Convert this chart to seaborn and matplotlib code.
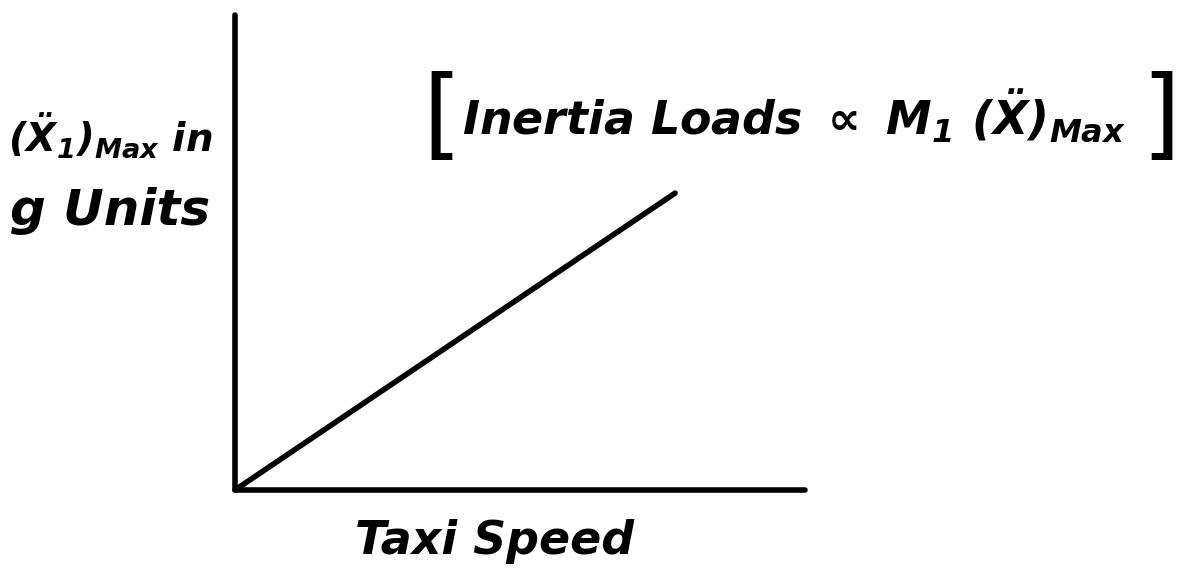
import matplotlib

matplotlib.use("Agg")
import matplotlib.pyplot as plt
import pandas as pd
import seaborn as sns

# sketch data: straight line from the origin, axes in arbitrary units
taxi_speed = [0.0, 0.772]
accel_max = [0.0, 0.625]

sns.set_style("white")
plt.rcParams["font.family"] = ["DejaVu Sans"]
plt.rcParams["mathtext.fontset"] = "custom"
plt.rcParams["mathtext.it"] = "DejaVu Sans:italic:bold"
plt.rcParams["mathtext.rm"] = "DejaVu Sans:italic:bold"

df = pd.DataFrame({"speed": taxi_speed, "accel": accel_max})

fig = plt.figure(figsize=(11.83, 5.72), dpi=100)
ax = fig.add_axes([235 / 1183, 82 / 572, 570 / 1183, 475 / 572])
sns.lineplot(data=df, x="speed", y="accel", ax=ax, color="black", lw=4)

ax.set_xlim(0, 1)
ax.set_ylim(0, 1)
ax.set_xticks([])
ax.set_yticks([])
ax.set_xlabel("")
ax.set_ylabel("")
for side in ["top", "right"]:
    ax.spines[side].set_visible(False)
for side in ["left", "bottom"]:
    ax.spines[side].set_linewidth(4)
    ax.spines[side].set_color("black")
    ax.spines[side].set_capstyle("round")

txt = dict(style="italic", weight="bold", color="black")
fig.text(355 / 1183, 8 / 572, "Taxi Speed", fontsize=33, ha="left", va="bottom", **txt)
fig.text(8 / 1183, 1 - 152 / 572, r"$(\ddot{X}_1)_{Max}$ in", fontsize=28,
         ha="left", va="baseline", **txt)
fig.text(10 / 1183, 1 - 225 / 572, "g Units", fontsize=36, ha="left", va="baseline", **txt)
fig.text(462 / 1183, 1 - 135 / 572,
         r"Inertia Loads $\propto$ M$_1$ $(\ddot{X})_{Max}$",
         fontsize=33, ha="left", va="baseline", **txt)
fig.text(422 / 1183, 1 - 120 / 572, "[", fontsize=72, ha="left", va="center",
         color="black", weight="normal")
fig.text(1180 / 1183, 1 - 120 / 572, "]", fontsize=72, ha="right", va="center",
         color="black", weight="normal")

fig.savefig("out.png", dpi=100, facecolor="white")
